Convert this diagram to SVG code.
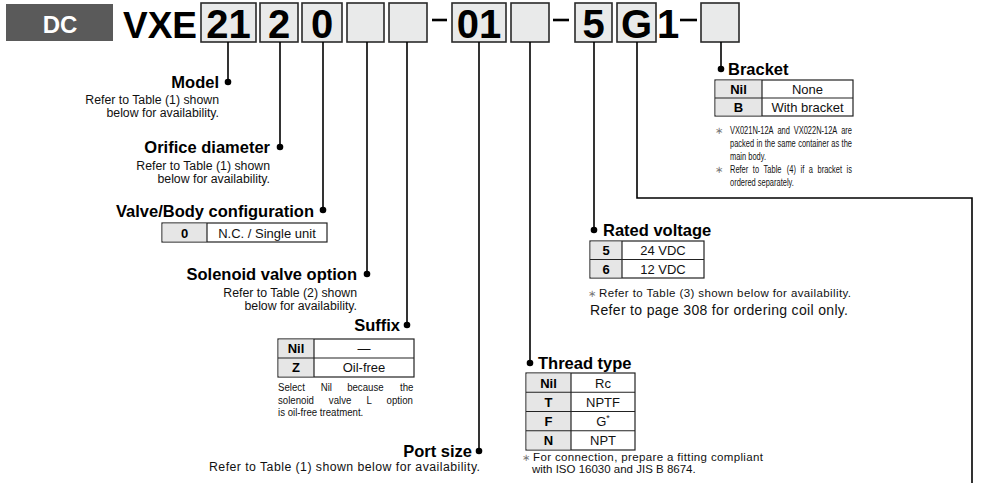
<svg xmlns="http://www.w3.org/2000/svg" width="981" height="483" viewBox="0 0 981 483">
<style>
text{font-family:"Liberation Sans",Arial,sans-serif;fill:#111}
.big{font-size:40px;font-weight:bold;text-anchor:middle;fill:#000}
.hd{font-size:16.5px;font-weight:bold;fill:#000}
.sub{font-size:12.3px}
.cell{font-size:13px;text-anchor:middle}
.cb{font-size:13px;font-weight:bold;text-anchor:middle;fill:#000}
.note{font-size:11.5px}
.sn{font-size:11.5px}
.ast{font-size:10px;fill:#777}
.box{fill:#e9eaea;stroke:#2a2a2a;stroke-width:1.6}
.tbl{fill:#fff;stroke:#222;stroke-width:1.2}
.th{fill:#e6e6e6;stroke:none}
.dv{stroke:#222;stroke-width:1.2}
.ln{fill:none;stroke:#000;stroke-width:1.6}
.dash{stroke:#000;stroke-width:2.6}
</style>

<g id="header">
  <rect x="6" y="4" width="107" height="37" fill="#5a5a5a"/>
  <text x="60" y="33" style="font-size:24px;font-weight:bold;fill:#fff" text-anchor="middle">DC</text>
  <text x="123" y="38" style="font-size:37px;font-weight:bold;fill:#000">VXE</text>
  <rect class="box" x="201" y="3" width="55" height="39"/>
  <text class="big" x="228.5" y="38">21</text>
  <rect class="box" x="260" y="3" width="38" height="39"/>
  <text class="big" x="279" y="38">2</text>
  <rect class="box" x="302" y="3" width="40" height="39"/>
  <text class="big" x="322" y="38">0</text>
  <rect class="box" x="347" y="3" width="37" height="39"/>
  <rect class="box" x="389" y="3" width="38" height="39"/>
  <line class="dash" x1="432" y1="20" x2="447" y2="20"/>
  <rect class="box" x="452" y="3" width="54" height="39"/>
  <text class="big" x="479" y="38">01</text>
  <rect class="box" x="511" y="3" width="38" height="39"/>
  <line class="dash" x1="553" y1="20" x2="569" y2="20"/>
  <rect class="box" x="575" y="3" width="37" height="39"/>
  <text class="big" x="593.5" y="38">5</text>
  <rect class="box" x="617" y="3" width="39" height="39"/>
  <text class="big" x="636.5" y="38">G</text>
  <text x="657" y="38" style="font-size:40px;font-weight:bold;fill:#000">1</text>
  <line class="dash" x1="680" y1="20" x2="697" y2="20"/>
  <rect class="box" x="701" y="3" width="38" height="39"/>
</g>

<g id="connectors">
  <path class="ln" d="M228,42V82"/>
  <path class="ln" d="M280,42V147"/>
  <path class="ln" d="M323,42V210"/>
  <path class="ln" d="M367,42V274"/>
  <path class="ln" d="M407,42V325"/>
  <path class="ln" d="M479,42V451"/>
  <path class="ln" d="M530,42V363"/>
  <path class="ln" d="M594,42V230"/>
  <path class="ln" d="M637,42V198H972V483"/>
  <path class="ln" d="M721,42V69"/>
  <g fill="#000">
    <circle cx="228" cy="82" r="3.3"/>
    <circle cx="280" cy="147" r="3.3"/>
    <circle cx="323" cy="210" r="3.3"/>
    <circle cx="367" cy="274" r="3.3"/>
    <circle cx="407" cy="325" r="3.3"/>
    <circle cx="479" cy="451" r="3.3"/>
    <circle cx="530" cy="363" r="3.3"/>
    <circle cx="594" cy="230" r="3.3"/>
    <circle cx="721" cy="69" r="3.3"/>
  </g>
</g>

<g id="model">
  <text class="hd" x="219" y="87.5" text-anchor="end">Model</text>
  <text class="sub" x="219" y="104" text-anchor="end">Refer to Table (1) shown</text>
  <text class="sub" x="219" y="117" text-anchor="end">below for availability.</text>
</g>

<g id="orifice">
  <text class="hd" x="270" y="153" text-anchor="end">Orifice diameter</text>
  <text class="sub" x="270" y="169.5" text-anchor="end">Refer to Table (1) shown</text>
  <text class="sub" x="270" y="182.5" text-anchor="end">below for availability.</text>
</g>

<g id="valve-body">
  <text class="hd" x="314" y="216.5" text-anchor="end">Valve/Body configuration</text>
  <rect class="tbl" x="162" y="223" width="165" height="19"/>
  <rect class="th" x="162.6" y="223.6" width="44.4" height="17.8"/>
  <line class="dv" x1="207" y1="223" x2="207" y2="242"/>
  <text class="cb" x="184.5" y="237.5">0</text>
  <text class="cell" x="267" y="237.5">N.C. / Single unit</text>
</g>

<g id="solenoid">
  <text class="hd" x="357" y="279.5" text-anchor="end">Solenoid valve option</text>
  <text class="sub" x="357" y="297" text-anchor="end">Refer to Table (2) shown</text>
  <text class="sub" x="357" y="309.5" text-anchor="end">below for availability.</text>
</g>

<g id="suffix">
  <text class="hd" x="400" y="331" text-anchor="end">Suffix</text>
  <rect class="tbl" x="278" y="339" width="136" height="38"/>
  <rect class="th" x="278.6" y="339.6" width="35.4" height="36.8"/>
  <line class="dv" x1="314" y1="339" x2="314" y2="377"/>
  <line class="dv" x1="278" y1="358" x2="414" y2="358"/>
  <text class="cb" x="296" y="353">Nil</text>
  <text class="cell" x="364" y="353">—</text>
  <text class="cb" x="296" y="372">Z</text>
  <text class="cell" x="364" y="372">Oil-free</text>
  <g transform="translate(278 0) scale(0.84 1)">
    <text class="sn" y="391.5"><tspan x="0">Select</tspan><tspan x="50.8">Nil</tspan><tspan x="82.3">because</tspan><tspan x="145.2">the</tspan></text>
    <text class="sn" y="404"><tspan x="0">solenoid</tspan><tspan x="60.5">valve</tspan><tspan x="105.3">L</tspan><tspan x="129.3">option</tspan></text>
    <text class="sn" x="0" y="416.5">is oil-free treatment.</text>
  </g>
</g>

<g id="port-size">
  <text class="hd" x="472" y="457" text-anchor="end">Port size</text>
  <text class="sub" x="209" y="471" textLength="271" lengthAdjust="spacing">Refer to Table (1) shown below for availability.</text>
</g>

<g id="thread">
  <text class="hd" x="538" y="369">Thread type</text>
  <rect class="tbl" x="526" y="373" width="109" height="77"/>
  <rect class="th" x="526.6" y="373.6" width="44.4" height="75.8"/>
  <line class="dv" x1="571" y1="373" x2="571" y2="450"/>
  <line class="dv" x1="526" y1="392.25" x2="635" y2="392.25"/>
  <line class="dv" x1="526" y1="411.5" x2="635" y2="411.5"/>
  <line class="dv" x1="526" y1="430.75" x2="635" y2="430.75"/>
  <text class="cb" x="548.5" y="387.5">Nil</text>
  <text class="cell" x="603" y="387.5">Rc</text>
  <text class="cb" x="548.5" y="406.75">T</text>
  <text class="cell" x="603" y="406.75">NPTF</text>
  <text class="cb" x="548.5" y="426">F</text>
  <text class="cell" x="603" y="426">G<tspan dy="-5" style="font-size:9px">*</tspan></text>
  <text class="cb" x="548.5" y="445.25">N</text>
  <text class="cell" x="603" y="445.25">NPT</text>
  <text class="ast" x="521.5" y="460.5">∗</text>
  <text class="note" x="533" y="460.5" textLength="230" lengthAdjust="spacing">For connection, prepare a fitting compliant</text>
  <text class="note" x="532" y="472.5">with ISO 16030 and JIS B 8674.</text>
</g>

<g id="rated-voltage">
  <text class="hd" x="603" y="236">Rated voltage</text>
  <rect class="tbl" x="590" y="241" width="114" height="37"/>
  <rect class="th" x="590.6" y="241.6" width="31.4" height="35.8"/>
  <line class="dv" x1="622" y1="241" x2="622" y2="278"/>
  <line class="dv" x1="590" y1="259.5" x2="704" y2="259.5"/>
  <text class="cb" x="606" y="255">5</text>
  <text class="cell" x="663" y="255">24 VDC</text>
  <text class="cb" x="606" y="273.5">6</text>
  <text class="cell" x="663" y="273.5">12 VDC</text>
  <text class="ast" x="588" y="296.5">∗</text>
  <text class="note" x="599" y="296.5" textLength="252" lengthAdjust="spacing">Refer to Table (3) shown below for availability.</text>
  <text x="590" y="315" style="font-size:14px" textLength="258" lengthAdjust="spacing">Refer to page 308 for ordering coil only.</text>
</g>

<g id="bracket">
  <text class="hd" x="728" y="75">Bracket</text>
  <rect class="tbl" x="715" y="80" width="138" height="36"/>
  <rect class="th" x="715.6" y="80.6" width="46.4" height="34.8"/>
  <line class="dv" x1="762" y1="80" x2="762" y2="116"/>
  <line class="dv" x1="715" y1="98" x2="853" y2="98"/>
  <text class="cb" x="738.5" y="93.5">Nil</text>
  <text class="cell" x="807.5" y="93.5">None</text>
  <text class="cb" x="738.5" y="111.5">B</text>
  <text class="cell" x="807.5" y="111.5">With bracket</text>
  <text class="ast" x="715" y="134">∗</text>
  <text class="ast" x="715" y="173">∗</text>
  <g transform="translate(730 0) scale(0.68 1)">
    <text class="sn" style="font-size:11px" y="134"><tspan x="0">VX021N-12A</tspan><tspan x="69.79">and</tspan><tspan x="93.73">VX022N-12A</tspan><tspan x="163.52">are</tspan></text>
    <text class="sn" style="font-size:11px" y="147"><tspan x="0">packed</tspan><tspan x="38.97">in</tspan><tspan x="51.04">the</tspan><tspan x="69.84">same</tspan><tspan x="100.25">container</tspan><tspan x="149">as</tspan><tspan x="164.13">the</tspan></text>
    <text class="sn" style="font-size:11px" x="0" y="160">main body.</text>
    <text class="sn" style="font-size:11px" y="173"><tspan x="0">Refer</tspan><tspan x="33.58">to</tspan><tspan x="49.43">Table</tspan><tspan x="83.62">(4)</tspan><tspan x="103.74">if</tspan><tspan x="115.92">a</tspan><tspan x="128.72">bracket</tspan><tspan x="171.47">is</tspan></text>
    <text class="sn" style="font-size:11px" x="0" y="186">ordered separately.</text>
  </g>
</g>
</svg>
